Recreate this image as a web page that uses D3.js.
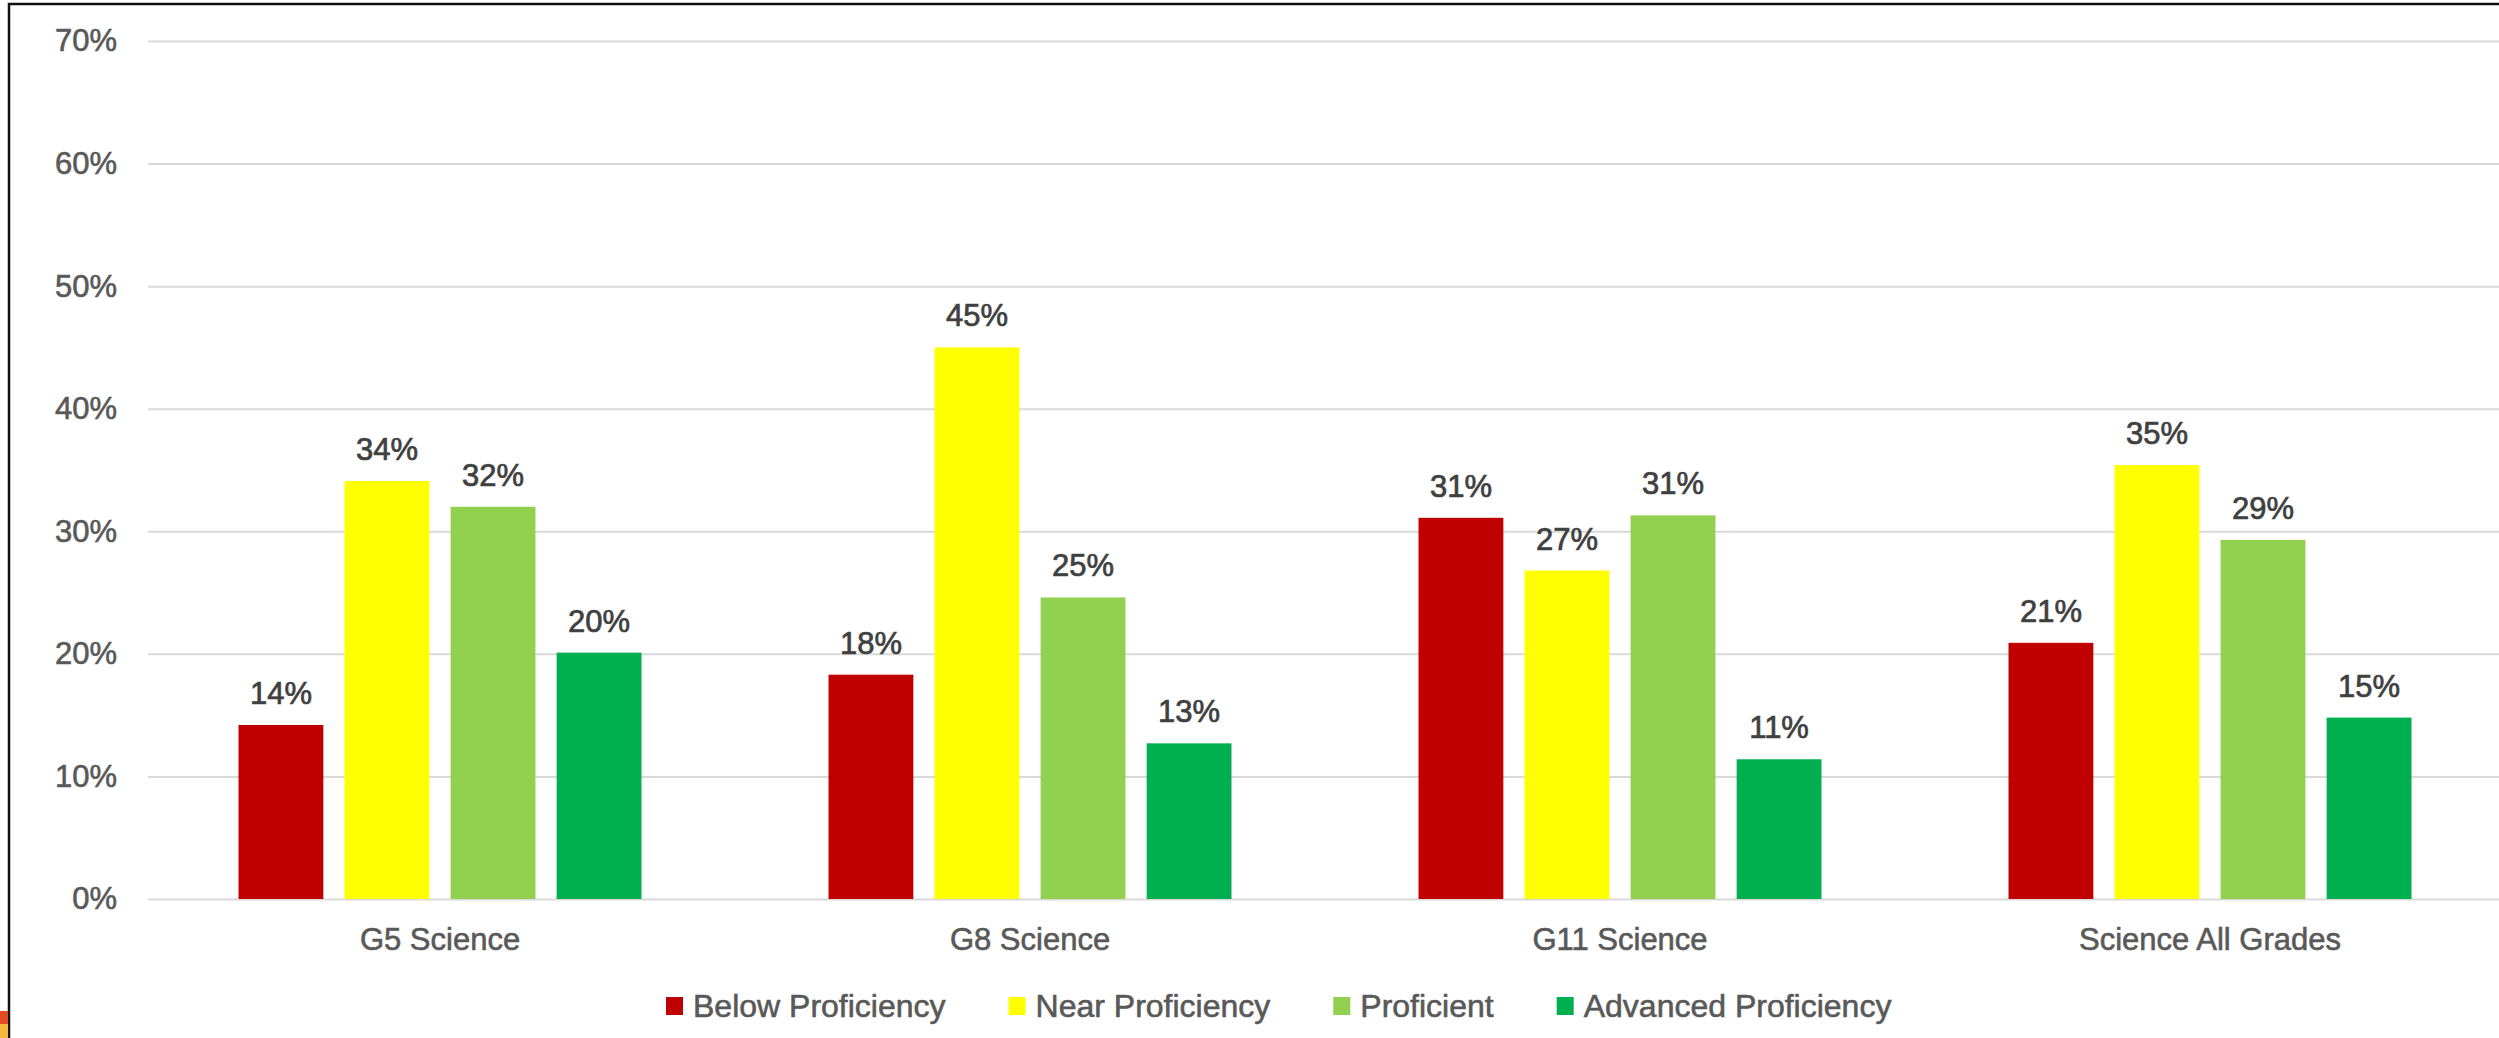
<!DOCTYPE html>
<html>
<head>
<meta charset="utf-8">
<script src="https://cdn.jsdelivr.net/npm/d3@7"></script>
<style>
  body { margin: 0; background: #fff; }
  svg { display: block; }
  text { font-family: "Liberation Sans", Arial, sans-serif; }
</style>
</head>
<body>
<div id="viz"></div>
<script>
var width = 2499,
    height = 1038;

// chart data
var categories = ['G5 Science', 'G8 Science', 'G11 Science', 'Science All Grades'];
var seriesNames = ['Below Proficiency', 'Near Proficiency', 'Proficient', 'Advanced Proficiency'];
var seriesColors = ['#C00000', '#FFFF00', '#92D050', '#00B050'];
var belowValues = [0.142, 0.183, 0.311, 0.209];
var nearValues = [0.341, 0.450, 0.268, 0.354];
var proficientValues = [0.320, 0.246, 0.313, 0.293];
var advancedValues = [0.201, 0.127, 0.114, 0.148];
var yTicks = [0, 0.1, 0.2, 0.3, 0.4, 0.5, 0.6, 0.7];

var seriesValues = [belowValues, nearValues, proficientValues, advancedValues];

var data = categories.map(function(c, i) {
  return {
    category: c,
    values: seriesNames.map(function(s, j) { return {key: s, color: seriesColors[j], value: seriesValues[j][i]}; })
  };
});

var plot = {left: 148, right: 2505, top: 41, bottom: 899};

var svg = d3.select('#viz').append('svg')
  .attr('width', width)
  .attr('height', height);

svg.append('rect')
  .attr('width', width).attr('height', height)
  .attr('fill', '#fff');

// frame of the slide
svg.append('rect')
  .attr('x', 9).attr('y', 4)
  .attr('width', width + 20).attr('height', height + 20)
  .attr('fill', 'none')
  .attr('stroke', '#111')
  .attr('stroke-width', 2.5);

// little slide decoration bottom left
svg.append('rect').attr('x', 0).attr('y', 1011).attr('width', 8).attr('height', 13).attr('fill', '#E24B22');
svg.append('rect').attr('x', 0).attr('y', 1024).attr('width', 8).attr('height', 14).attr('fill', '#F7B63E');

var y = d3.scaleLinear()
  .domain([0, 0.7])
  .range([plot.bottom, plot.top]);

var x0 = d3.scaleBand()
  .domain(categories)
  .range([145, 2505])
  .paddingInner(0.317)
  .paddingOuter(0.1585);

var x1 = d3.scaleBand()
  .domain(seriesNames)
  .range([0, x0.bandwidth()])
  .paddingInner(0.2);

// y axis with gridlines
var yAxis = svg.append('g')
  .attr('transform', 'translate(' + plot.left + ',0)')
  .call(d3.axisLeft(y)
    .tickValues(yTicks)
    .tickFormat(d3.format('.0%'))
    .tickSize(-(plot.right - plot.left))
    .tickPadding(31));
yAxis.select('.domain').remove();
yAxis.selectAll('.tick line').attr('stroke', '#D9D9D9').attr('stroke-width', 2);
yAxis.selectAll('.tick text')
  .attr('fill', '#595959')
  .style('font-size', '31px')
  .attr('stroke', '#595959').attr('stroke-width', 0.6);

// category axis
var xAxis = svg.append('g')
  .attr('transform', 'translate(0,' + plot.bottom + ')')
  .call(d3.axisBottom(x0).tickSize(0).tickPadding(29));
xAxis.select('.domain').remove();
xAxis.selectAll('.tick text')
  .attr('fill', '#595959')
  .style('font-size', '31px')
  .attr('stroke', '#595959').attr('stroke-width', 0.6);

var groups = svg.append('g').selectAll('g')
  .data(data)
  .join('g')
  .attr('transform', function(d) { return 'translate(' + x0(d.category) + ',0)'; });

groups.selectAll('rect')
  .data(function(d) { return d.values; })
  .join('rect')
  .attr('x', function(d) { return x1(d.key); })
  .attr('y', function(d) { return y(d.value); })
  .attr('width', x1.bandwidth())
  .attr('height', function(d) { return y(0) - y(d.value); })
  .attr('fill', function(d) { return d.color; });

groups.selectAll('text.label')
  .data(function(d) { return d.values; })
  .join('text')
  .attr('class', 'label')
  .attr('x', function(d) { return x1(d.key) + x1.bandwidth() / 2; })
  .attr('y', function(d) { return y(d.value) - 21; })
  .attr('text-anchor', 'middle')
  .attr('fill', '#404040')
  .attr('stroke', '#404040').attr('stroke-width', 0.7)
  .style('font-size', '31px')
  .text(function(d) { return d3.format('.0%')(d.value); });

// legend
var legend = svg.append('g')
  .attr('transform', 'translate(666,1006)');

var lx = 0;
seriesNames.forEach(function(s, i) {
  var item = legend.append('g').attr('transform', 'translate(' + lx + ',0)');
  item.append('rect')
    .attr('x', 0).attr('y', -9)
    .attr('width', 17).attr('height', 18)
    .attr('fill', seriesColors[i]);
  var t = item.append('text')
    .attr('x', 27)
    .attr('dy', '0.35em')
    .attr('fill', '#595959')
    .attr('stroke', '#595959').attr('stroke-width', 0.6)
    .style('font-size', '32px')
    .text(s);
  lx += 27 + t.node().getComputedTextLength() + 63;
});
</script>
</body>
</html>
